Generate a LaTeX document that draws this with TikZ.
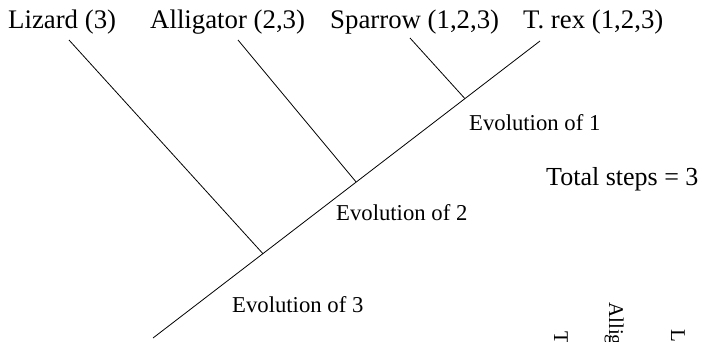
\documentclass[tikz,border=0pt]{standalone}
\usepackage{fontspec}
\setmainfont{Liberation Serif}
\usetikzlibrary{calc}
\begin{document}
\begin{tikzpicture}[x=1pt,y=1pt,
  branch/.style={line width=0.8pt, black},
  taxon/.style={anchor=base west, inner sep=0pt, font=\fontsize{26.8}{30}\selectfont},
  evo/.style={anchor=base west, inner sep=0pt, font=\fontsize{22.7}{26}\selectfont},
  cut/.style={anchor=base west, inner sep=0pt, rotate=-90, font=\fontsize{21}{24}\selectfont}]
\clip (0,0) rectangle (702,-341);
% main line
\coordinate (root) at (153,-338);
\coordinate (trextop) at (540,-41);
\coordinate (j3) at ($(root)!0.284!(trextop)$);
\coordinate (j2) at ($(root)!0.525!(trextop)$);
\coordinate (j1) at ($(root)!0.806!(trextop)$);
\coordinate (liztop) at (69,-40);
\coordinate (alltop) at (238,-40);
\coordinate (spatop) at (410,-38);
\draw[branch] (root) -- (trextop);
\draw[branch] (liztop) -- (j3);
\draw[branch] (alltop) -- (j2);
\draw[branch] (spatop) -- (j1);
% labels
\node[taxon] (liz) at (8,-28) {Lizard (3)};
\node[taxon] (all) at (150,-28) {Alligator (2,3)};
\node[taxon] (spa) at (330,-28) {Sparrow (1,2,3)};
\node[taxon] (trex) at (523,-28) {T. rex (1,2,3)};
\node[evo] (e1) at (469,-130) {Evolution of 1};
\node[evo] (e2) at (336,-220) {Evolution of 2};
\node[evo] (e3) at (232,-312) {Evolution of 3};
\node[taxon, font=\fontsize{26}{30}\selectfont] (tot) at (546,-185) {Total steps = 3};
% clipped rotated labels at bottom right
\node[cut] (ctrex) at (554,-331) {T. rex};
\node[cut] (call) at (609,-302) {Alligator};
\node[cut] (cliz) at (671,-329) {Lizard};
\end{tikzpicture}
\end{document}
